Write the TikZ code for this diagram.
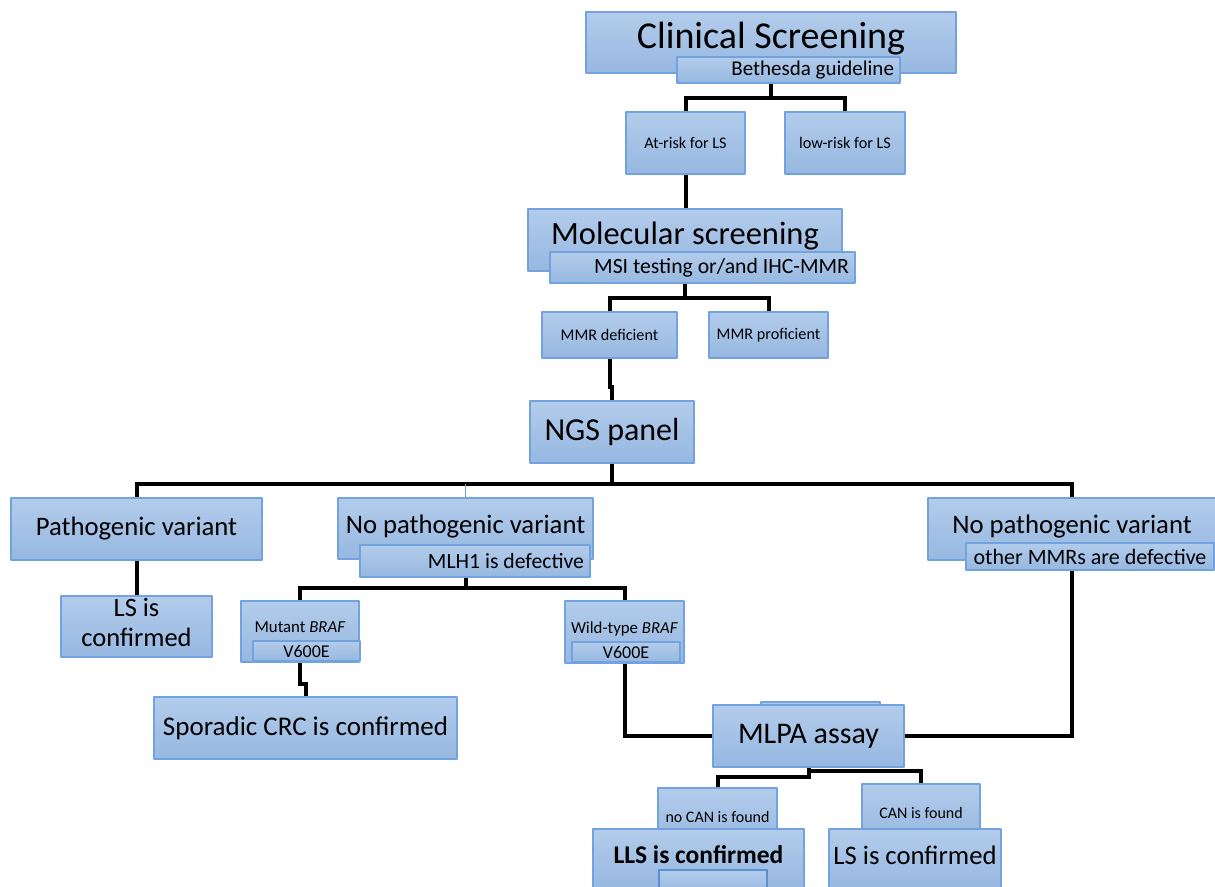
\documentclass[tikz,border=0pt]{standalone}
\usepackage{fontspec}
\setmainfont{Carlito}
\usepackage{tikz}
\usetikzlibrary{calc}
\usetikzlibrary{backgrounds}
\definecolor{boxtop}{rgb}{0.70,0.80,0.92}
\definecolor{boxbot}{rgb}{0.59,0.72,0.88}
\definecolor{boxline}{rgb}{0.45,0.64,0.87}
\definecolor{innerline}{rgb}{0.36,0.56,0.82}
\newcommand{\boxfont}[2]{\fontsize{#1}{#2}\selectfont}
\tikzstyle{bluebox}=[draw=boxline,line width=1.2pt,top color=boxtop,bottom color=boxbot,inner sep=2pt,text=black]
\tikzstyle{link}=[line width=4pt,line join=miter,color=black]
\tikzstyle{ghostlink}=[line width=1.2pt,color=boxline]

\begin{document}
\begin{tikzpicture}[line cap=round,line join=round,x=1pt,y=-1pt]
            \useasboundingbox (0,0) rectangle (1215,886);
            \clip(0,0) rectangle (1215,886);
            % screening levels
            \node[bluebox,minimum width=370pt,minimum height=61pt,text depth=14pt,font=\boxfont{38}{44}] (clinical) at (771,42.5) {Clinical Screening};
            \node[bluebox,minimum width=223pt,minimum height=26pt,inner xsep=6pt,font=\boxfont{21}{25}] (bethesda) at (788.5,70) {\makebox[211pt][r]{Bethesda guideline}};
            \node[bluebox,minimum width=119pt,minimum height=62pt,font=\boxfont{16.2}{19}] (atrisk) at (685.5,143) {At-risk for LS};
            \node[bluebox,minimum width=120pt,minimum height=62pt,font=\boxfont{16.2}{19}] (lowrisk) at (845,143) {low-risk for LS};
            \node[bluebox,minimum width=314pt,minimum height=62pt,text depth=13pt,font=\boxfont{32.5}{38}] (molecular) at (685,240) {Molecular screening};
            \node[bluebox,minimum width=305pt,minimum height=31pt,inner xsep=6pt,font=\boxfont{21.7}{26}] (msi) at (702.5,267.5) {\makebox[293pt][r]{MSI testing or/and IHC-MMR}};
            \node[bluebox,minimum width=135pt,minimum height=46pt,font=\boxfont{16.2}{19}] (mmrdef) at (609.5,335) {MMR deficient};
            \node[bluebox,minimum width=119pt,minimum height=46pt,font=\boxfont{16.2}{19}] (mmrpro) at (768.5,335) {MMR proficient};
            \node[bluebox,minimum width=164pt,minimum height=62pt,font=\boxfont{32}{38}] (ngs) at (612,432) {NGS panel};
            % NGS outcomes
            \node[bluebox,minimum width=251pt,minimum height=62pt,font=\boxfont{26.7}{31}] (pathogenic) at (136.5,529) {Pathogenic variant};
            \node[bluebox,minimum width=255pt,minimum height=61pt,text depth=9pt,font=\boxfont{26.7}{31}] (nopathA) at (465.5,528.5) {No pathogenic variant};
            \node[bluebox,minimum width=230pt,minimum height=32pt,inner xsep=6pt,font=\boxfont{21.7}{26}] (mlh) at (475,561) {\makebox[218pt][r]{MLH1 is defective}};
            \node[bluebox,minimum width=288pt,minimum height=62pt,text depth=9pt,font=\boxfont{26.7}{31}] (nopathB) at (1072,529) {No pathogenic variant};
            \node[bluebox,minimum width=248pt,minimum height=27pt,font=\boxfont{22}{26}] (othermmr) at (1090,556.5) {other MMRs are defective};
            \node[bluebox,minimum width=151pt,minimum height=61pt,align=center,text depth=8pt,font=\boxfont{26.5}{30}] (lsleft) at (136.5,626.5) {LS is\\confirmed};
            \node[bluebox,minimum width=118pt,minimum height=61pt,text depth=8pt,font=\boxfont{16.8}{20}] (mutant) at (300,631.5) {Mutant \textit{BRAF}};
            \node[bluebox,minimum width=107pt,minimum height=20pt,font=\boxfont{18}{21}] (v600A) at (306.5,651) {V600E};
            \node[bluebox,minimum width=119pt,minimum height=62pt,text depth=8pt,font=\boxfont{16.8}{20}] (wildtype) at (624.5,632) {Wild-type \textit{BRAF}};
            \node[bluebox,minimum width=108pt,minimum height=20pt,font=\boxfont{18}{21}] (v600B) at (626,652) {V600E};
            \node[bluebox,minimum width=303pt,minimum height=62pt,font=\boxfont{27}{31}] (sporadic) at (305.5,728) {Sporadic CRC is confirmed};
            % MLPA
            \node[bluebox,minimum width=119pt,minimum height=18pt] (mlpatab) at (820.5,711) {};
            \node[bluebox,minimum width=191pt,minimum height=62pt,font=\boxfont{30}{36}] (mlpa) at (808.5,736) {MLPA assay};
            \node[bluebox,minimum width=119pt,minimum height=57pt,font=\boxfont{16}{19}] (nocan) at (717.5,816.5) {no CAN is found};
            \node[bluebox,minimum width=118pt,minimum height=58pt,font=\boxfont{16}{19}] (canfound) at (921,813) {CAN is found};
            \node[bluebox,minimum width=211pt,minimum height=60pt,text depth=8pt,font=\bfseries\boxfont{25.5}{30}] (lls) at (698.5,859) {LLS is confirmed};
            \node[bluebox,draw=innerline,line width=2.5pt,minimum width=108pt,minimum height=24pt] (llsinner) at (713,882) {};
            \node[bluebox,minimum width=172pt,minimum height=60pt,text depth=8pt,font=\boxfont{26.7}{31}] (lsright) at (915,859) {LS is confirmed};
            % connectors behind the boxes
            \begin{scope}[on background layer]
            \fill[white] (0,0) rectangle (1215,886);
            \draw[link] (clinical.south) -- ++(0,24) coordinate (riskbar);
            \draw[link] (atrisk.north) |- (riskbar) -| (lowrisk.north);
            \draw[link] (atrisk.south) -- (atrisk.south |- molecular.north);
            \draw[link] (molecular.south) -- ++(0,26) coordinate (mmrbar);
            \draw[link] (mmrdef.north) |- (mmrbar) -| (mmrpro.north);
            \draw[link] (mmrdef.south) -- ++(0,28) -| (ngs.north);
            \draw[link] (ngs.south) -- ++(0,20) coordinate (ngsbar);
            \draw[link] (pathogenic.north) |- (ngsbar) -| (nopathB.north);
            \draw[ghostlink] (ngsbar -| nopathA.north) -- (nopathA.north);
            \draw[link] (pathogenic.south) -- (lsleft.north);
            \draw[link] (nopathA.south) -- ++(0,28) coordinate (brafbar);
            \draw[link] (mutant.north) |- (brafbar) -| (wildtype.north);
            \draw[link] (mutant.south) -- ++(0,21) -| (sporadic.north);
            \draw[link] (wildtype.south) |- (mlpa.west);
            \draw[link] (nopathB.south) |- (mlpa.east);
            \draw[link] (mlpa.south) -- ++(0,9) -| (nocan.north);
            \draw[link] (mlpa.south) -- ++(0,3) -| (canfound.north);
            \end{scope}
            \end{tikzpicture}
\end{document}
